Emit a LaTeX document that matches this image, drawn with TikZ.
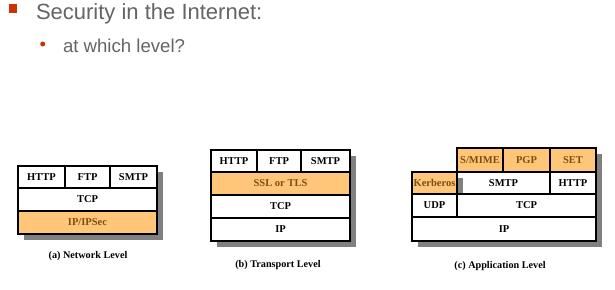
\documentclass[tikz,border=0pt]{standalone}
\usepackage{fontspec}
\setmainfont{Liberation Serif}
\newfontfamily\slidefont{Liberation Sans}
\usetikzlibrary{shadows}
\definecolor{secfill}{RGB}{255,197,120}
\definecolor{sectext}{RGB}{125,78,18}
\definecolor{bulletred}{RGB}{204,51,0}
\definecolor{slidegray}{RGB}{100,100,100}

\begin{document}
\begin{tikzpicture}[x=1pt,y=-1pt,
    cell/.style={draw,line width=1.2pt,fill=white,anchor=north west,inner sep=0pt,outer sep=0pt,
      font=\fontsize{10.5}{12}\selectfont\bfseries,
      drop shadow={shadow xshift=6pt,shadow yshift=-6pt,fill=black!50,opacity=1}},
    sec/.style={cell,fill=secfill,text=sectext},
    caption/.style={font=\fontsize{10.2}{12}\selectfont\bfseries},
    headline/.style={anchor=base west,text=slidegray,font=\slidefont\fontsize{22}{26}\selectfont},
    subline/.style={anchor=base west,text=slidegray,font=\slidefont\fontsize{18.6}{22}\selectfont}
  ]
    \useasboundingbox (0,0) rectangle (615,289);

    % slide heading
    \node[fill=bulletred,minimum width=7.5pt,minimum height=8.5pt,inner sep=0pt] (sq) at (13,8.5) {};
    \node[headline] (head) at (32.5,19.5) {Security in the Internet:};
    \node[circle,fill=bulletred,minimum size=5pt,inner sep=0pt] (dot) at (42.7,44) {};
    \node[subline] (sub) at (59.5,52.5) {at which level?};

    % (a) network level
    \node[cell,minimum width=47pt,minimum height=22pt] (ahttp) at (18,166) {HTTP};
    \node[cell,minimum width=45pt,minimum height=22pt] (aftp) at (ahttp.north east) {FTP};
    \node[cell,minimum width=47pt,minimum height=22pt] (asmtp) at (aftp.north east) {SMTP};
    \node[cell,minimum width=139pt,minimum height=23pt] (atcp) at (ahttp.south west) {TCP};
    \node[sec,minimum width=139pt,minimum height=23pt] (aip) at (atcp.south west) {IP/IPSec};
    \node[caption] (acap) at (88,256) {(a) Network Level};

    % (b) transport level
    \node[cell,minimum width=46pt,minimum height=22pt] (bhttp) at (211,150) {HTTP};
    \node[cell,minimum width=44pt,minimum height=22pt] (bftp) at (bhttp.north east) {FTP};
    \node[cell,minimum width=49pt,minimum height=22pt] (bsmtp) at (bftp.north east) {SMTP};
    \node[sec,minimum width=139pt,minimum height=23pt] (bssl) at (bhttp.south west) {SSL or TLS};
    \node[cell,minimum width=139pt,minimum height=23pt] (btcp) at (bssl.south west) {TCP};
    \node[cell,minimum width=139pt,minimum height=23pt] (bip) at (btcp.south west) {IP};
    \node[caption] (bcap) at (278,265) {(b) Transport Level};

    % (c) application level
    \node[sec,minimum width=46pt,minimum height=24pt] (csmime) at (457,148) {S/MIME};
    \node[sec,minimum width=47pt,minimum height=24pt] (cpgp) at (csmime.north east) {PGP};
    \node[sec,minimum width=46pt,minimum height=24pt] (cset) at (cpgp.north east) {SET};
    \node[cell,minimum width=93pt,minimum height=22pt] (csmtp) at (csmime.south west) {SMTP};
    \node[sec,anchor=north east,minimum width=45pt,minimum height=22pt] (ckerb) at (csmtp.north west) {Kerberos};
    \node[cell,minimum width=46pt,minimum height=22pt] (chttp) at (csmtp.north east) {HTTP};
    \node[cell,minimum width=45pt,minimum height=23pt] (cudp) at (ckerb.south west) {UDP};
    \node[cell,minimum width=139pt,minimum height=23pt] (ctcp) at (cudp.north east) {TCP};
    \node[cell,minimum width=184pt,minimum height=24pt] (cip) at (cudp.south west) {IP};
    \node[caption] (ccap) at (500,266) {(c) Application Level};
\end{tikzpicture}
\end{document}
